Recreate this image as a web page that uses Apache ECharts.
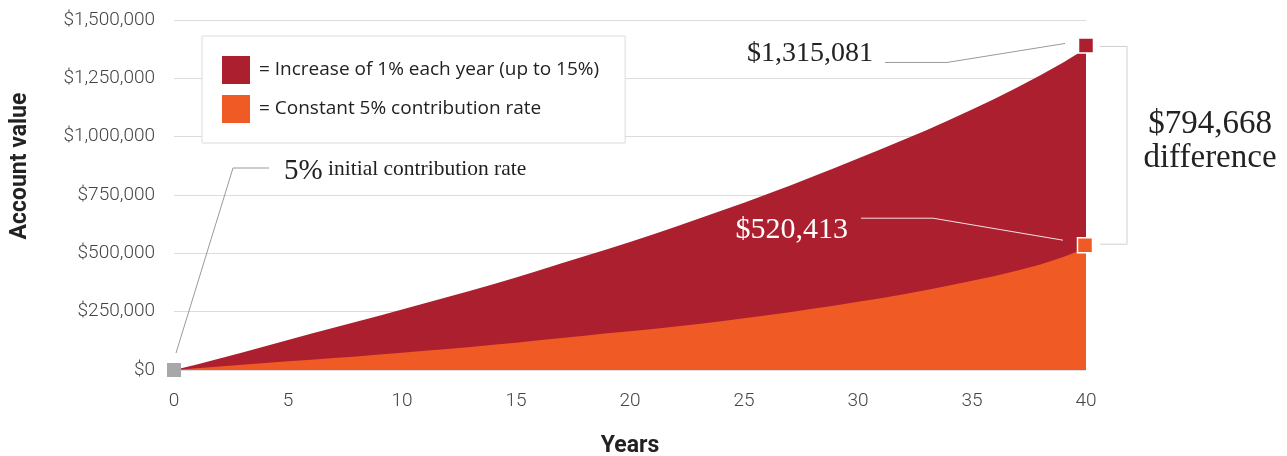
<!DOCTYPE html>
<html><head><meta charset="utf-8">
<script src="https://cdn.jsdelivr.net/npm/echarts@6/dist/echarts.min.js"></script>
<style>html,body{margin:0;padding:0;background:#fff}#c{width:1287px;height:456px}</style>
</head><body><div id="c"></div>
<script>
const years = [0,1,2,3,4,5,6,7,8,9,10,11,12,13,14,15,16,17,18,19,20,21,22,23,24,25,26,27,28,29,30,31,32,33,34,35,36,37,38,39,40];
const increasing = [0,24000,49000,75000,102000,129000,155000,181000,207000,233000,259000,286000,313000,340000,368000,396000,426000,457000,487000,518000,549000,581000,614000,648000,682000,717000,753000,790000,828000,867000,906000,946000,987000,1028000,1071000,1116000,1163000,1212000,1263000,1318000,1378000];
const constant = [0,7000,14500,22000,29500,37000,44000,51000,58000,66000,74000,82000,90000,99000,108000,117000,127000,137000,147000,157000,166000,176000,186000,197000,209000,222000,235000,248000,262000,276000,292000,308000,325000,343000,362000,382000,403000,426000,452000,484000,522000];
const seriesNames = ['Increase of 1% each year (up to 15%)', 'Constant 5% contribution rate'];
const xTicks = [0,5,10,15,20,25,30,35,40];
const yTicks = [0,250000,500000,750000,1000000,1250000,1500000];
const endLabelIncrease = '$1,315,081';
const endLabelConstant = '$520,413';
const diffLabel = '$794,668';
const diffWord = 'difference';
const initPct = '5%';
const initText = 'initial contribution rate';
const yName = 'Account value';
const xName = 'Years';

const RED = '#AC1F2E', ORANGE = '#F05A24', GRAY = '#A8A8AA';
function money(v){ return '$' + String(v).replace(/\B(?=(\d{3})+(?!\d))/g, ','); }

const chart = echarts.init(document.getElementById('c'));
const option = {
  animation: false,
  grid: { left: 174, right: 201, top: 20, bottom: 86, containLabel: false, outerBoundsMode: 'none' },
  xAxis: {
    type: 'value', min: xTicks[0], max: xTicks[xTicks.length-1], interval: 5,
    axisLine: { show: false }, axisTick: { show: false }, splitLine: { show: false },
    axisLabel: { margin: 22, fontSize: 19, color: '#444', fontFamily: 'Roboto', fontWeight: 300 },
    name: xName, nameLocation: 'middle', nameGap: 65,
    nameTextStyle: { fontSize: 23, fontWeight: 'bold', color: '#222', fontFamily: 'Roboto' }
  },
  yAxis: {
    type: 'value', min: yTicks[0], max: yTicks[yTicks.length-1], interval: 250000,
    axisLine: { show: false }, axisTick: { show: false },
    splitLine: { lineStyle: { color: '#dcdcdc', width: 1 } },
    axisLabel: { margin: 19, fontSize: 19, color: '#444', fontFamily: 'Roboto', fontWeight: 300, formatter: money }
  },
  legend: {
    orient: 'vertical', left: 202, top: 36,
    padding: [20, 26, 20, 20], itemGap: 11, itemWidth: 28, itemHeight: 28,
    backgroundColor: '#fff', borderColor: '#dcdcdc', borderWidth: 1,
    icon: 'rect',
    formatter: n => '= ' + n,
    textStyle: { fontSize: 19, color: '#222', fontFamily: 'Open Sans', padding: [0,0,0,4] },
    data: seriesNames
  },
  series: [
    { name: seriesNames[0], type: 'line', symbol: 'none', z: 2, smooth: false,
      data: years.map((y,i)=>[y, increasing[i]]),
      itemStyle: { color: RED }, lineStyle: { width: 0, color: RED },
      areaStyle: { color: RED, opacity: 1 } },
    { name: seriesNames[1], type: 'line', symbol: 'none', z: 3, smooth: false,
      data: years.map((y,i)=>[y, constant[i]]),
      itemStyle: { color: ORANGE }, lineStyle: { width: 0, color: ORANGE },
      areaStyle: { color: ORANGE, opacity: 1 } }
  ]
};
chart.setOption(option);

const last = years.length - 1;
const pr = chart.convertToPixel({gridIndex: 0}, [years[last], increasing[last]]);
const po = chart.convertToPixel({gridIndex: 0}, [years[last], constant[last]]);
const G = chart.convertToPixel({gridIndex: 0}, [years[0], 0]);
const R = [pr[0], pr[1] - 3];
const O = [po[0] - 1, po[1] - 3];
const mid = (R[1] + O[1]) / 2;
const serif = 'Liberation Serif';
function sq(c, color, size, stroke){
  return { type: 'rect', z: 100, shape: { x: c[0]-size/2, y: c[1]-size/2, width: size, height: size },
    style: { fill: color, stroke: stroke || null, lineWidth: stroke ? 1.5 : 0 } };
}
function txt(x, y, text, size, color, align){
  return { type: 'text', z: 100, x: x, y: y,
    style: { text: text, font: size + 'px "' + serif + '"', fill: color, align: align, verticalAlign: 'middle' } };
}
function pl(points, color){
  return { type: 'polyline', z: 99, shape: { points: points }, style: { stroke: color, lineWidth: 1, fill: null } };
}
chart.setOption({
  graphic: [
    { type: 'text', z: 100, x: 20, y: 166, rotation: Math.PI/2,
      style: { text: yName, font: 'bold 23px Roboto', fill: '#222', align: 'center', verticalAlign: 'middle' } },
    pl([[G[0]+2, G[1]-17], [G[0]+59, G[1]-202], [G[0]+95, G[1]-202]], '#999'),
    txt(G[0]+110, G[1]-199, initPct, 29, '#222', 'left'),
    txt(G[0]+154, G[1]-201, initText, 21.5, '#222', 'left'),
    sq(G, GRAY, 14),
    pl([[R[0]-201, R[1]+17], [R[0]-139, R[1]+17], [R[0]-21, R[1]-2]], '#999'),
    txt(R[0]-213, R[1]+8, endLabelIncrease, 28, '#222', 'right'),
    pl([[O[0]-224, O[1]-27], [O[0]-152, O[1]-27], [O[0]-22, O[1]-5]], '#f3e3e3'),
    txt(O[0]-237, O[1]-15, endLabelConstant, 30, '#fff', 'right'),
    pl([[R[0]+14, R[1]+1], [R[0]+41, R[1]+1], [R[0]+41, O[1]-1], [R[0]+14, O[1]-1]], '#d0d0d0'),
    txt(R[0]+124, mid-21, diffLabel, 33, '#222', 'center'),
    txt(R[0]+124, mid+13, diffWord, 33, '#222', 'center'),
    sq(R, RED, 15, '#fff'),
    sq(O, ORANGE, 15, '#fff')
  ]
});
</script></body></html>
